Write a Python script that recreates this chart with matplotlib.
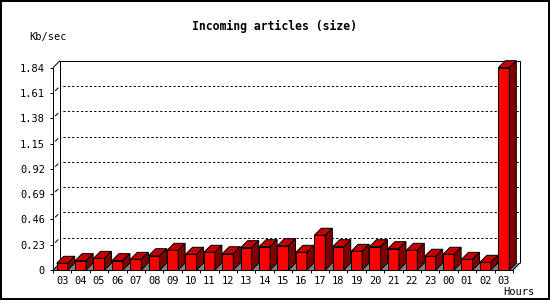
import matplotlib
matplotlib.use('Agg')
import matplotlib.pyplot as plt
from matplotlib.patches import Polygon
import numpy as np

# ---- data ----
hours = ['03', '04', '05', '06', '07', '08', '09', '10', '11', '12', '13', '14',
         '15', '16', '17', '18', '19', '20', '21', '22', '23', '00', '01', '02', '03']
size_kbps = [0.061, 0.085, 0.106, 0.085, 0.097, 0.130, 0.179, 0.143, 0.161, 0.148,
             0.203, 0.212, 0.221, 0.161, 0.316, 0.212, 0.170, 0.212, 0.194, 0.179,
             0.125, 0.143, 0.097, 0.070, 1.84]
y_ticks = [0, 0.23, 0.46, 0.69, 0.92, 1.15, 1.38, 1.61, 1.84]
y_tick_labels = ['0', '0.23', '0.46', '0.69', '0.92', '1.15', '1.38', '1.61', '1.84']
title = 'Incoming articles (size)'
y_unit = 'Kb/sec'
x_unit = 'Hours'

W, H = 550, 300
MONO = 'DejaVu Sans Mono'
LW = 0.72  # 1 px

fig = plt.figure(figsize=(W / 100, H / 100), dpi=100)
fig.patch.set_facecolor('white')
fig.patch.set_edgecolor('black')
fig.patch.set_linewidth(1.6)

ax = fig.add_axes([53 / W, 30 / H, 460 / W, 202.3 / H])
n = len(hours)
ax.set_xlim(-0.5, n - 0.5)
ax.set_ylim(0, y_ticks[-1])
ax.set_facecolor('none')
for s in ['top', 'right']:
    ax.spines[s].set_visible(False)
for s in ['left', 'bottom']:
    ax.spines[s].set_linewidth(LW)
    ax.spines[s].set_zorder(6)

# depth offset (7 px right / 7 px up) converted to data units
p0 = ax.transData.transform((0, 0))
dpt = ax.transData.inverted().transform(p0 + np.array([7.0, 7.0]))
dx, dy = dpt[0], dpt[1]

x0, x1 = -0.5, n - 0.5
ytop = y_ticks[-1]

# floor
ax.add_patch(Polygon([(x0, 0), (x1, 0), (x1 + dx, dy), (x0 + dx, dy)],
                     closed=True, facecolor='#808080', edgecolor='none',
                     zorder=1, clip_on=False))

# back wall frame
frame_kw = dict(color='black', lw=LW, clip_on=False, zorder=2, solid_capstyle='butt')
ax.plot([x0 + dx, x0 + dx, x1 + dx, x1 + dx], [dy, ytop + dy, ytop + dy, dy], **frame_kw)
ax.plot([x0, x0 + dx], [ytop, ytop + dy], **frame_kw)
ax.plot([x1, x1 + dx], [0, dy], **frame_kw)
ax.plot([x0, x0 + dx], [0, dy], **frame_kw)

# grid lines on back wall + short slanted connectors
for t in y_ticks[1:-1]:
    ax.plot([x0 + dx, x1 + dx], [t + dy, t + dy], color='black', lw=LW,
            linestyle=(1.5, (2.2, 2.2)), clip_on=False, zorder=1.5)
    ax.plot([x0 + 0.35 * dx, x0 + 0.7 * dx], [t + 0.35 * dy, t + 0.7 * dy],
            color='black', lw=LW, clip_on=False, zorder=1.5)

# bars (front face)
x = np.arange(n)
w = 0.6
ax.bar(x, size_kbps, width=w, color='#FF0000', edgecolor='black',
       linewidth=LW, zorder=3)
# top and side faces
for xi, v in zip(x, size_kbps):
    l, r = xi - w / 2, xi + w / 2
    ax.add_patch(Polygon([(l, v), (r, v), (r + dx, v + dy), (l + dx, v + dy)],
                         closed=True, facecolor='#C40000', edgecolor='black',
                         linewidth=LW, zorder=3, clip_on=False))
    ax.add_patch(Polygon([(r, 0), (r + dx, dy), (r + dx, v + dy), (r, v)],
                         closed=True, facecolor='#800000', edgecolor='black',
                         linewidth=LW, zorder=3, clip_on=False))

# ticks
ax.set_yticks(y_ticks)
ax.set_yticklabels(y_tick_labels, fontfamily=MONO, fontsize=7.5)
ax.tick_params(axis='y', direction='out', length=2.2, width=LW, pad=3.6)
ax.set_xticks(np.arange(-0.5, n, 1.0))
ax.set_xticklabels([])
ax.tick_params(axis='x', which='major', direction='out', length=2.2, width=LW)
ax.set_xticks(x, minor=True)
ax.set_xticklabels(hours, minor=True, fontfamily=MONO, fontsize=7.5)
ax.tick_params(axis='x', which='minor', length=0, pad=4.0)

# texts
fig.text(274 / W, 1 - 26.7 / H, title, ha='center', va='center',
         fontfamily=MONO, fontweight='bold', fontsize=8.3)
fig.text(47.5 / W, 1 - 36.7 / H, y_unit, ha='center', va='center',
         fontfamily=MONO, fontsize=7.5)
fig.text(519 / W, 1 - 292 / H, x_unit, ha='center', va='center',
         fontfamily=MONO, fontsize=7.5)

fig.savefig('out.png', dpi=100, facecolor='white', edgecolor='black')
